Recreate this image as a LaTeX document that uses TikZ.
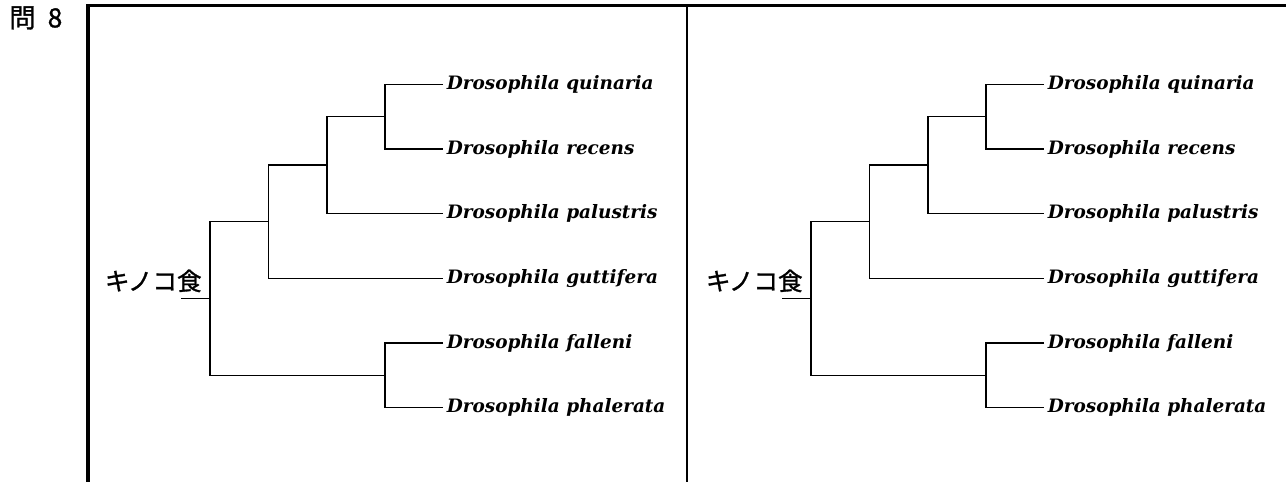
\documentclass[tikz,border=0pt]{standalone}
\usepackage{fontspec}
\newfontfamily\jpfont[FakeBold=1.2]{Noto Sans CJK JP}
\newfontfamily\leaffont{DejaVu Serif}
\usetikzlibrary{positioning}

\tikzset{
	branch/.style={line width=0.8pt},
	leaf/.style={anchor=west, inner xsep=2pt, inner ysep=0pt, font=\leaffont\fontsize{10.5}{12}\selectfont\bfseries\itshape},
	rootlabel/.style={anchor=south east, inner sep=0pt, font=\jpfont\fontsize{14}{16}\selectfont},
	frameline/.style={line width=1.8pt},
	divider/.style={line width=1pt}
}

\begin{document}
\begin{tikzpicture}[x=0.02cm, y=-0.02cm]
			\useasboundingbox (0,0) rectangle (1286,482);
			% --- Begin Frame ---
			\node [anchor=north west, inner sep=0pt, font=\jpfont\fontsize{15}{18}\selectfont] (question) at (9,6) {問\hspace{0.24cm}8};
			\coordinate (frame_bl) at (88,482);
			\coordinate (frame_tl) at (88,5.5);
			\coordinate (frame_tr) at (1286,5.5);
			\coordinate (divider_top) at (687,5.5);
			\coordinate (divider_bottom) at (687,482);
			\draw [frameline] (frame_bl) -- (frame_tl) -- (frame_tr);
			\draw [divider] (divider_top) -- (divider_bottom);
			% --- End Frame ---

			% --- Begin Left Tree ---
			\node [leaf] (L-quinaria) at (443,84.3) {Drosophila quinaria};
			\node [leaf] (L-recens) at (443,149) {Drosophila recens};
			\node [leaf] (L-palustris) at (443,213.7) {Drosophila palustris};
			\node [leaf] (L-guttifera) at (443,278.4) {Drosophila guttifera};
			\node [leaf] (L-falleni) at (443,343.1) {Drosophila falleni};
			\node [leaf] (L-phalerata) at (443,407.8) {Drosophila phalerata};
			\coordinate (L-n4) at (385,116.7);
			\coordinate (L-n3) at (327,165.2);
			\coordinate (L-n2) at (268.3,221.8);
			\coordinate (L-n5) at (385,375.5);
			\coordinate (L-n1) at (210,298.6);
			\coordinate (L-stub) at (181,298.6);
			\draw [branch] (L-quinaria.west) -| (L-n4) |- (L-recens.west);
			\draw [branch] (L-n4) -| (L-n3) |- (L-palustris.west);
			\draw [branch] (L-n3) -| (L-n2) |- (L-guttifera.west);
			\draw [branch] (L-falleni.west) -| (L-n5) |- (L-phalerata.west);
			\draw [branch] (L-n2) -| (L-n1) |- (L-n5);
			\draw [branch] (L-stub) -- (L-n1);
			\node [rootlabel, above left=0.12cm and 0.16cm of L-n1] (L-label) {キノコ食};
			% --- End Left Tree ---

			% --- Begin Right Tree ---
			\node [leaf] (R-quinaria) at (1044,84.3) {Drosophila quinaria};
			\node [leaf] (R-recens) at (1044,149) {Drosophila recens};
			\node [leaf] (R-palustris) at (1044,213.7) {Drosophila palustris};
			\node [leaf] (R-guttifera) at (1044,278.4) {Drosophila guttifera};
			\node [leaf] (R-falleni) at (1044,343.1) {Drosophila falleni};
			\node [leaf] (R-phalerata) at (1044,407.8) {Drosophila phalerata};
			\coordinate (R-n4) at (986,116.7);
			\coordinate (R-n3) at (928,165.2);
			\coordinate (R-n2) at (869.3,221.8);
			\coordinate (R-n5) at (986,375.5);
			\coordinate (R-n1) at (811,298.6);
			\coordinate (R-stub) at (782,298.6);
			\draw [branch] (R-quinaria.west) -| (R-n4) |- (R-recens.west);
			\draw [branch] (R-n4) -| (R-n3) |- (R-palustris.west);
			\draw [branch] (R-n3) -| (R-n2) |- (R-guttifera.west);
			\draw [branch] (R-falleni.west) -| (R-n5) |- (R-phalerata.west);
			\draw [branch] (R-n2) -| (R-n1) |- (R-n5);
			\draw [branch] (R-stub) -- (R-n1);
			\node [rootlabel, above left=0.12cm and 0.16cm of R-n1] (R-label) {キノコ食};
			% --- End Right Tree ---
\end{tikzpicture}
\end{document}
